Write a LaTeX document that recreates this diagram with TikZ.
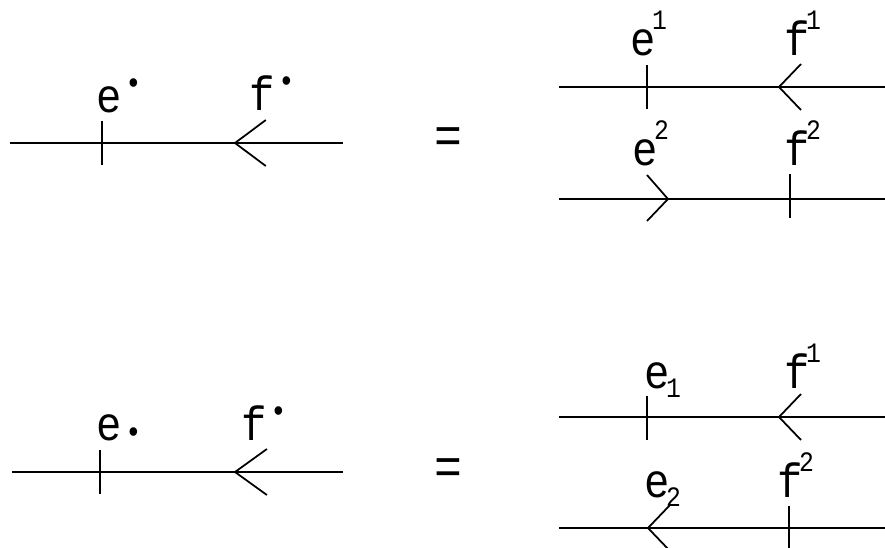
\documentclass[tikz,border=0pt]{standalone}
\usepackage{fontspec}
\setmainfont[FakeStretch=0.88]{Liberation Mono}
\newcommand{\hiup}[1]{\kern-3pt\raisebox{22pt}{\fontsize{24}{24}\selectfont #1}}
\newcommand{\lodn}[1]{\kern-3pt\raisebox{-8pt}{\fontsize{24}{24}\selectfont #1}}
\newcommand{\updot}{\kern3pt\raisebox{16pt}{\fontsize{27}{27}\selectfont •}}
\newcommand{\lowdot}{\kern3pt\raisebox{-2pt}{\fontsize{27}{27}\selectfont •}}

\begin{document}
\begin{tikzpicture}[
  x=0.03cm, y=-0.03cm,
  prop/.style={line width=1.5pt},
  lab/.style={anchor=base west, inner sep=0pt, font=\fontsize{41}{43}\selectfont},
  eqsign/.style={inner sep=0pt, font=\fontsize{45}{47}\selectfont},
  tickmark/.pic={\draw[prop] (0,-22) -- (0,22);},
  arrowin/.pic={\draw[prop] (22,-23) -- (0,0) -- (22,23);},
  arrowout/.pic={\draw[prop] (-21,-24) -- (0,0) -- (-21,22);},
]
\useasboundingbox (0,0) rectangle (885,547);

% ---- upper index: e^. f^.
\coordinate (ua) at (10,143);
\coordinate (ub) at (343,143);
\draw[prop] (ua) -- (ub);
\pic at (102,143) {tickmark};
\pic[xscale=1.4] at (235,143) {arrowin};
\node[lab] (ue) at (96,112) {e\updot};
\node[lab] (uf) at (249,110) {f\updot};

\node[eqsign] (eq1) at (448,141) {=};

\coordinate (r1a) at (559,87);
\coordinate (r1b) at (885,87);
\draw[prop] (r1a) -- (r1b);
\pic at (647,87) {tickmark};
\pic at (779,87) {arrowin};
\node[lab] (r1e) at (630,55) {e\hiup{1}};
\node[lab] (r1f) at (784,55) {f\hiup{1}};

\coordinate (r2a) at (559,199);
\coordinate (r2b) at (885,199);
\draw[prop] (r2a) -- (r2b);
\pic at (668,199) {arrowout};
\pic at (790,196) {tickmark};
\node[lab] (r2e) at (632,165) {e\hiup{2}};
\node[lab] (r2f) at (784,165) {f\hiup{2}};

% ---- mixed index: e_. f^.
\coordinate (la) at (12,472);
\coordinate (lb) at (343,472);
\draw[prop] (la) -- (lb);
\pic at (100,472) {tickmark};
\pic[xscale=1.45] at (235,472) {arrowin};
\node[lab] (le) at (96,440) {e\lowdot};
\node[lab] (lf) at (241,440) {f\updot};

\node[eqsign] (eq2) at (448,472) {=};

\coordinate (s1a) at (559,417);
\coordinate (s1b) at (885,417);
\draw[prop] (s1a) -- (s1b);
\pic at (647,418) {tickmark};
\pic at (779,417) {arrowin};
\node[lab] (s1e) at (644,388) {e\lodn{1}};
\node[lab] (s1f) at (784,388) {f\hiup{1}};

\coordinate (s2a) at (559,528);
\coordinate (s2b) at (885,528);
\draw[prop] (s2a) -- (s2b);
\pic at (648,528) {arrowin};
\pic at (789,528) {tickmark};
\node[lab] (s2e) at (644,497) {e\lodn{2}};
\node[lab] (s2f) at (777,497) {f\hiup{2}};

\end{tikzpicture}
\end{document}
